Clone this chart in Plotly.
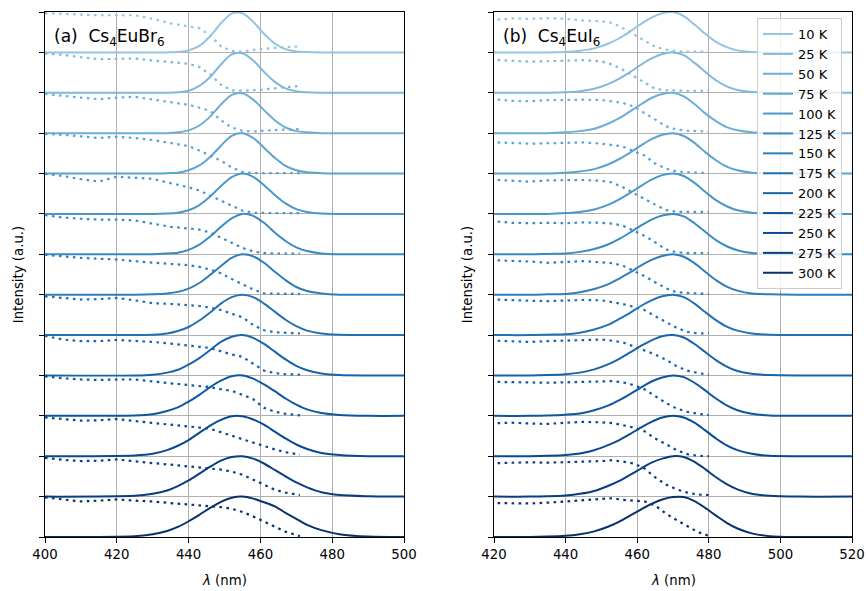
import plotly.graph_objects as go

TEMPS = [10, 25, 50, 75, 100, 125, 150, 175, 200, 225, 250, 275, 300]
COLORS = ["rgb(148,196,223)", "rgb(127,185,218)", "rgb(107,174,214)", "rgb(91,163,208)",
          "rgb(74,152,201)", "rgb(59,139,195)", "rgb(46,126,188)", "rgb(33,113,181)",
          "rgb(23,100,171)", "rgb(13,87,161)", "rgb(8,74,146)", "rgb(8,61,127)", "rgb(8,48,107)"]

# ---- (a) Cs4EuBr6 ----
XL_EM = [400, 425, 430, 434, 437, 440, 443, 446, 449, 452, 455, 458, 461, 464, 467, 470, 473, 477, 482, 490, 500]
EM_LEFT = [
    [0, 0, 0, 0, 0.01, 0.05, 0.16, 0.40, 0.72, 0.96, 0.97, 0.76, 0.46, 0.22, 0.08, 0.02, 0.01, 0, 0, 0, 0],
    [0, 0, 0, 0, 0.01, 0.05, 0.17, 0.39, 0.70, 0.95, 0.98, 0.80, 0.52, 0.27, 0.11, 0.04, 0.01, 0, 0, 0, 0],
    [0, 0, 0, 0, 0.02, 0.07, 0.19, 0.41, 0.71, 0.95, 0.99, 0.83, 0.57, 0.32, 0.14, 0.05, 0.02, 0, 0, 0, 0],
    [0, 0, 0, 0.01, 0.02, 0.08, 0.20, 0.41, 0.69, 0.93, 1.0, 0.88, 0.64, 0.39, 0.19, 0.08, 0.03, 0.01, 0, 0, 0],
    [0, 0, 0, 0.01, 0.03, 0.09, 0.22, 0.43, 0.69, 0.91, 1.0, 0.92, 0.71, 0.47, 0.26, 0.12, 0.05, 0.01, 0, 0, 0],
    [0, 0, 0, 0.02, 0.04, 0.11, 0.24, 0.44, 0.68, 0.89, 1.0, 0.95, 0.78, 0.54, 0.33, 0.17, 0.08, 0.02, 0, 0, 0],
    [0, 0, 0.01, 0.03, 0.07, 0.15, 0.29, 0.49, 0.71, 0.91, 1.0, 0.95, 0.79, 0.57, 0.36, 0.19, 0.09, 0.03, 0, 0, 0],
    [0, 0, 0.01, 0.04, 0.10, 0.20, 0.36, 0.56, 0.78, 0.94, 1.0, 0.94, 0.78, 0.58, 0.38, 0.22, 0.11, 0.04, 0.01, 0, 0],
    [0, 0, 0.02, 0.07, 0.14, 0.27, 0.43, 0.63, 0.83, 0.96, 1.0, 0.93, 0.78, 0.59, 0.40, 0.24, 0.13, 0.05, 0.01, 0, 0],
    [0, 0.01, 0.04, 0.12, 0.21, 0.35, 0.52, 0.71, 0.87, 0.98, 1.0, 0.92, 0.78, 0.61, 0.43, 0.28, 0.16, 0.07, 0.02, 0, 0],
    [0, 0.02, 0.06, 0.15, 0.26, 0.40, 0.58, 0.76, 0.90, 0.99, 0.99, 0.91, 0.78, 0.61, 0.44, 0.29, 0.18, 0.08, 0.03, 0, 0],
    [0, 0.02, 0.07, 0.15, 0.26, 0.40, 0.57, 0.74, 0.89, 0.98, 1.0, 0.94, 0.82, 0.66, 0.50, 0.35, 0.23, 0.11, 0.04, 0.01, 0],
    [0, 0.02, 0.07, 0.15, 0.25, 0.39, 0.55, 0.72, 0.87, 0.97, 1.0, 0.95, 0.86, 0.76, 0.60, 0.45, 0.30, 0.17, 0.07, 0.01, 0],
]
XL_EX = [400, 405, 410, 415, 420, 425, 430, 435, 440, 443, 446, 449, 452, 455, 458, 461, 464, 467, 471]
EX_LEFT = [
    [0.97, 0.95, 0.94, 0.92, 0.92, 0.92, 0.83, 0.72, 0.64, 0.60, 0.42, 0.15, 0.04, 0.02, 0.06, 0.09, 0.11, 0.13, 0.15],
    [0.97, 0.94, 0.88, 0.83, 0.84, 0.85, 0.80, 0.76, 0.72, 0.64, 0.46, 0.20, 0.06, 0.05, 0.06, 0.08, 0.11, 0.14, 0.17],
    [0.97, 0.92, 0.88, 0.84, 0.88, 0.90, 0.83, 0.77, 0.70, 0.63, 0.55, 0.32, 0.14, 0.06, 0.04, 0.06, 0.08, 0.09, 0.10],
    [0.98, 0.96, 0.92, 0.88, 0.91, 0.88, 0.83, 0.76, 0.68, 0.57, 0.45, 0.32, 0.15, 0.04, 0.01, 0.01, 0.01, 0.01, 0.01],
    [0.99, 0.94, 0.86, 0.80, 0.92, 0.90, 0.87, 0.76, 0.66, 0.58, 0.45, 0.33, 0.20, 0.08, 0.03, 0.02, 0.02, 0.02, 0.02],
    [0.97, 0.91, 0.88, 0.86, 0.86, 0.84, 0.76, 0.68, 0.64, 0.61, 0.54, 0.42, 0.30, 0.16, 0.07, 0.03, 0.02, 0.02, 0.02],
    [0.99, 0.95, 0.91, 0.89, 0.87, 0.83, 0.79, 0.76, 0.73, 0.69, 0.62, 0.53, 0.39, 0.26, 0.13, 0.03, 0.02, 0.02, 0.02],
    [0.96, 0.92, 0.88, 0.89, 0.92, 0.86, 0.79, 0.77, 0.74, 0.72, 0.68, 0.62, 0.53, 0.44, 0.25, 0.12, 0.07, 0.05, 0.04],
    [0.98, 0.89, 0.85, 0.85, 0.88, 0.86, 0.83, 0.79, 0.75, 0.71, 0.68, 0.60, 0.52, 0.46, 0.30, 0.12, 0.06, 0.03, 0.02],
    [0.98, 0.93, 0.90, 0.89, 0.90, 0.90, 0.85, 0.81, 0.77, 0.74, 0.71, 0.66, 0.62, 0.52, 0.41, 0.20, 0.10, 0.05, 0.01],
    [0.96, 0.92, 0.88, 0.89, 0.92, 0.87, 0.83, 0.79, 0.74, 0.71, 0.68, 0.60, 0.51, 0.42, 0.33, 0.25, 0.17, 0.10, 0.04],
    [0.96, 0.91, 0.88, 0.89, 0.92, 0.87, 0.83, 0.79, 0.75, 0.72, 0.71, 0.67, 0.62, 0.54, 0.42, 0.30, 0.17, 0.10, 0.04],
    [0.98, 0.93, 0.88, 0.90, 0.93, 0.90, 0.88, 0.84, 0.80, 0.78, 0.77, 0.74, 0.70, 0.62, 0.51, 0.38, 0.26, 0.13, 0.02],
]

# ---- (b) Cs4EuI6 ----
XR_EM = [420, 430, 435, 440, 444, 448, 452, 455, 458, 461, 464, 467, 470, 473, 476, 479, 482, 485, 488, 492, 497, 505, 520]
EM_RIGHT = [
    [0, 0, 0, 0.01, 0.04, 0.10, 0.22, 0.35, 0.52, 0.70, 0.86, 0.97, 1.0, 0.90, 0.69, 0.46, 0.26, 0.13, 0.05, 0.01, 0, 0, 0],
    [0, 0, 0, 0.01, 0.04, 0.10, 0.22, 0.35, 0.51, 0.69, 0.85, 0.96, 1.0, 0.93, 0.74, 0.52, 0.31, 0.16, 0.07, 0.02, 0, 0, 0],
    [0, 0, 0, 0.02, 0.05, 0.11, 0.24, 0.37, 0.54, 0.71, 0.87, 0.97, 1.0, 0.91, 0.72, 0.49, 0.30, 0.15, 0.07, 0.02, 0, 0, 0],
    [0, 0, 0, 0.02, 0.05, 0.11, 0.23, 0.36, 0.52, 0.69, 0.85, 0.96, 1.0, 0.93, 0.76, 0.53, 0.33, 0.17, 0.08, 0.02, 0, 0, 0],
    [0, 0, 0, 0.02, 0.05, 0.11, 0.23, 0.36, 0.52, 0.69, 0.85, 0.96, 1.0, 0.94, 0.77, 0.55, 0.34, 0.19, 0.09, 0.03, 0.01, 0, 0],
    [0, 0, 0.01, 0.02, 0.06, 0.13, 0.25, 0.38, 0.54, 0.71, 0.86, 0.96, 1.0, 0.94, 0.77, 0.56, 0.35, 0.20, 0.10, 0.03, 0.01, 0, 0],
    [0, 0, 0.01, 0.02, 0.06, 0.14, 0.26, 0.40, 0.55, 0.72, 0.86, 0.96, 1.0, 0.94, 0.78, 0.57, 0.36, 0.20, 0.10, 0.03, 0.01, 0, 0],
    [0, 0, 0.01, 0.02, 0.06, 0.14, 0.26, 0.40, 0.55, 0.72, 0.86, 0.96, 1.0, 0.94, 0.78, 0.57, 0.37, 0.21, 0.11, 0.04, 0.01, 0, 0],
    [0, 0, 0.01, 0.03, 0.07, 0.15, 0.28, 0.41, 0.57, 0.73, 0.87, 0.97, 1.0, 0.94, 0.78, 0.58, 0.38, 0.22, 0.11, 0.04, 0.01, 0, 0],
    [0, 0, 0.01, 0.03, 0.06, 0.14, 0.26, 0.39, 0.54, 0.70, 0.85, 0.95, 1.0, 0.96, 0.82, 0.63, 0.43, 0.26, 0.14, 0.05, 0.01, 0, 0],
    [0, 0, 0.01, 0.03, 0.07, 0.15, 0.28, 0.40, 0.55, 0.71, 0.85, 0.96, 1.0, 0.96, 0.83, 0.64, 0.44, 0.27, 0.15, 0.06, 0.01, 0, 0],
    [0, 0, 0.01, 0.03, 0.07, 0.14, 0.27, 0.39, 0.54, 0.69, 0.84, 0.94, 1.0, 0.98, 0.86, 0.68, 0.48, 0.31, 0.18, 0.07, 0.02, 0, 0],
    [0, 0, 0.01, 0.03, 0.07, 0.14, 0.26, 0.38, 0.53, 0.68, 0.82, 0.93, 0.99, 0.99, 0.89, 0.72, 0.53, 0.35, 0.21, 0.09, 0.02, 0, 0],
]
XR_EX = [421, 425, 430, 435, 440, 445, 450, 453, 456, 459, 462, 465, 468, 471, 474, 477, 480]
EX_RIGHT = [
    [0.81, 0.84, 0.83, 0.85, 0.83, 0.79, 0.77, 0.73, 0.60, 0.45, 0.30, 0.14, 0.07, 0.03, 0.02, 0.02, 0.02],
    [0.81, 0.79, 0.77, 0.78, 0.79, 0.81, 0.78, 0.70, 0.57, 0.41, 0.25, 0.10, 0.06, 0.05, 0.05, 0.05, 0.05],
    [0.83, 0.80, 0.79, 0.82, 0.82, 0.83, 0.82, 0.79, 0.75, 0.66, 0.51, 0.34, 0.17, 0.09, 0.06, 0.05, 0.04],
    [0.77, 0.76, 0.74, 0.75, 0.76, 0.77, 0.74, 0.71, 0.67, 0.55, 0.45, 0.25, 0.12, 0.05, 0.03, 0.02, 0.02],
    [0.84, 0.82, 0.80, 0.83, 0.84, 0.84, 0.82, 0.78, 0.66, 0.51, 0.37, 0.23, 0.10, 0.05, 0.05, 0.05, 0.05],
    [0.81, 0.78, 0.77, 0.78, 0.77, 0.79, 0.78, 0.76, 0.71, 0.58, 0.46, 0.30, 0.12, 0.05, 0.03, 0.03, 0.03],
    [0.85, 0.84, 0.82, 0.79, 0.81, 0.83, 0.80, 0.78, 0.72, 0.60, 0.46, 0.31, 0.16, 0.06, 0.04, 0.03, 0.02],
    [0.88, 0.86, 0.85, 0.84, 0.86, 0.87, 0.86, 0.82, 0.77, 0.70, 0.62, 0.47, 0.32, 0.18, 0.08, 0.04, 0.04],
    [0.86, 0.84, 0.83, 0.85, 0.86, 0.87, 0.89, 0.86, 0.82, 0.72, 0.62, 0.52, 0.39, 0.23, 0.12, 0.06, 0.02],
    [0.84, 0.83, 0.82, 0.82, 0.83, 0.84, 0.85, 0.86, 0.83, 0.76, 0.66, 0.48, 0.32, 0.18, 0.10, 0.05, 0.02],
    [0.82, 0.83, 0.81, 0.80, 0.83, 0.85, 0.84, 0.82, 0.77, 0.71, 0.62, 0.44, 0.30, 0.15, 0.05, 0.01, 0.0],
    [0.83, 0.84, 0.85, 0.84, 0.85, 0.87, 0.88, 0.90, 0.87, 0.82, 0.70, 0.48, 0.30, 0.18, 0.10, 0.05, 0.04],
    [0.84, 0.83, 0.83, 0.85, 0.88, 0.92, 0.94, 0.96, 0.92, 0.90, 0.88, 0.78, 0.58, 0.42, 0.26, 0.12, 0.03],
]

W, H = 868, 591
FONT = "DejaVu Sans"
DOT = "2.6px,4.4px"
n = len(TEMPS)

fig = go.Figure()
for i, T in enumerate(TEMPS):
    off = n - 1 - i
    c = COLORS[i]
    fig.add_trace(go.Scatter(x=XL_EX, y=[v + off for v in EX_LEFT[i]], mode="lines",
                             line=dict(color=c, width=2.2, dash=DOT), showlegend=False,
                             xaxis="x", yaxis="y", hoverinfo="skip"))
    fig.add_trace(go.Scatter(x=XL_EM, y=[v + off for v in EM_LEFT[i]], mode="lines",
                             line=dict(color=c, width=2, shape="spline", smoothing=0.8),
                             showlegend=False, xaxis="x", yaxis="y", name=f"{T} K"))
    fig.add_trace(go.Scatter(x=XR_EX, y=[v + off for v in EX_RIGHT[i]], mode="lines",
                             line=dict(color=c, width=2.2, dash=DOT), showlegend=False,
                             xaxis="x2", yaxis="y2", hoverinfo="skip"))
    fig.add_trace(go.Scatter(x=XR_EM, y=[v + off for v in EM_RIGHT[i]], mode="lines",
                             line=dict(color=c, width=2, shape="spline", smoothing=0.8),
                             showlegend=True, xaxis="x2", yaxis="y2", name=f"{T} K"))

ydom = [1 - 537 / H, 1 - 12 / H]
common_x = dict(ticks="outside", ticklen=5, tickcolor="black", tickwidth=1,
                showline=True, linecolor="black", linewidth=1, mirror=True,
                showgrid=True, gridcolor="#b0b0b0", gridwidth=1, zeroline=False,
                automargin=False,
                tickfont=dict(family=FONT, size=13.3, color="black"))
common_y = dict(ticks="outside", ticklen=5, tickcolor="black", tickwidth=1,
                showline=True, linecolor="black", linewidth=1, mirror=True,
                showgrid=True, gridcolor="#b0b0b0", gridwidth=1, zeroline=False,
                range=[0, 13], tickvals=list(range(0, 14)), showticklabels=False,
                domain=ydom, automargin=False,
                title=dict(text="Intensity (a.u.)", standoff=12,
                           font=dict(family=FONT, size=13.3, color="black")))

fig.update_layout(
    width=W, height=H, margin=dict(l=0, r=0, t=0, b=0),
    paper_bgcolor="white", plot_bgcolor="white",
    font=dict(family=FONT, size=13.3, color="black"),
    xaxis=dict(domain=[45 / W, 404 / W], range=[400, 500], tickvals=[400, 420, 440, 460, 480, 500],
               anchor="y", **common_x),
    yaxis=dict(anchor="x", **common_y),
    xaxis2=dict(domain=[494 / W, 852 / W], range=[420, 520], tickvals=[420, 440, 460, 480, 500, 520],
                anchor="y2", **common_x),
    yaxis2=dict(anchor="x2", **common_y),
    legend=dict(x=757 / W, xanchor="left", y=1 - 18 / H, yanchor="top",
                bgcolor="rgba(255,255,255,0.8)", bordercolor="#cccccc", borderwidth=1,
                font=dict(family=FONT, size=13, color="black"), tracegroupgap=0),
    showlegend=True,
)

for xc in (224.5, 673):
    fig.add_annotation(text="<i>λ</i> (nm)", xref="paper", yref="paper", x=xc / W, y=1 - 580 / H,
                       showarrow=False, xanchor="center", yanchor="middle",
                       font=dict(family=FONT, size=13.3, color="black"))
fig.add_annotation(text="(a)  Cs<sub>4</sub>EuBr<sub>6</sub>", xref="paper", yref="paper",
                   x=52 / W, y=1 - 37 / H, xanchor="left", yanchor="middle", showarrow=False,
                   font=dict(family=FONT, size=17, color="black"))
fig.add_annotation(text="(b)  Cs<sub>4</sub>EuI<sub>6</sub>", xref="paper", yref="paper",
                   x=501 / W, y=1 - 37 / H, xanchor="left", yanchor="middle", showarrow=False,
                   font=dict(family=FONT, size=17, color="black"))

fig.write_html("out.html")
